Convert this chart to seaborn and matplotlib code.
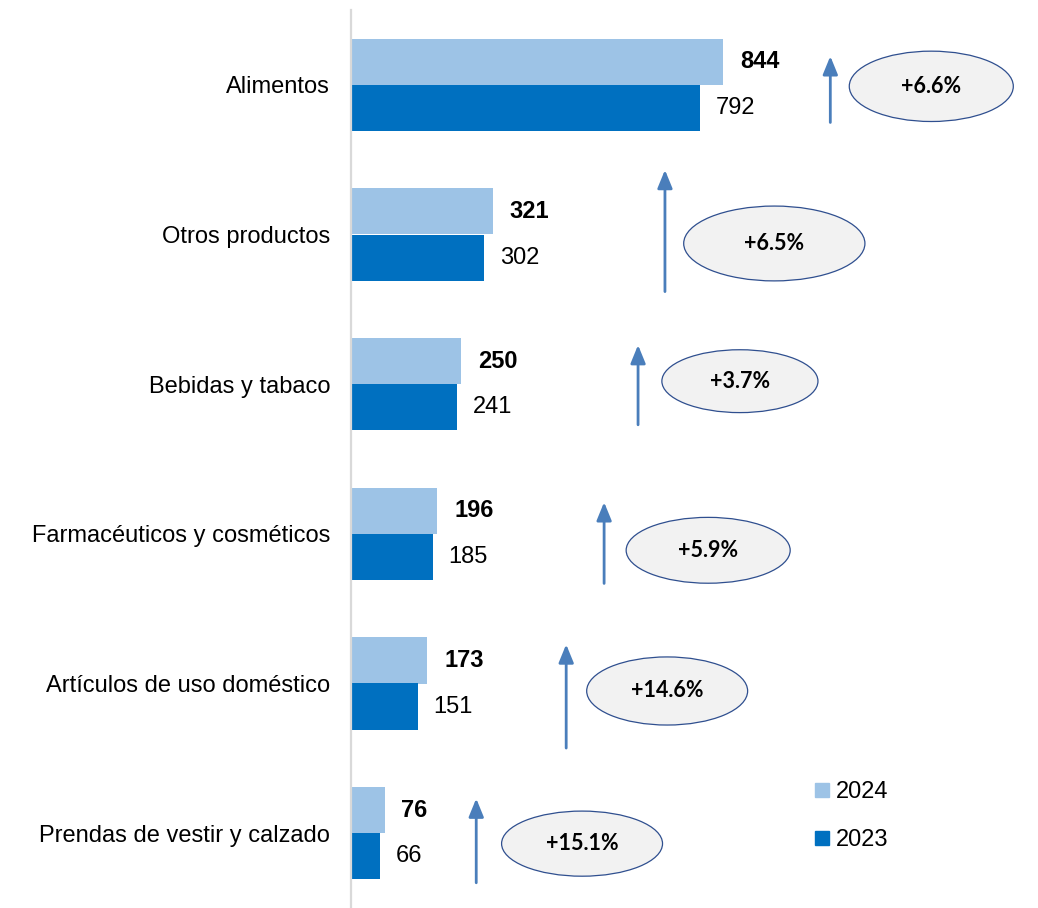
import matplotlib
matplotlib.use("Agg")
import matplotlib.pyplot as plt
from matplotlib.patches import Ellipse
from matplotlib.lines import Line2D
import seaborn as sns
import pandas as pd

categories = [
    "Alimentos",
    "Otros productos",
    "Bebidas y tabaco",
    "Farmacéuticos y cosméticos",
    "Artículos de uso doméstico",
    "Prendas de vestir y calzado",
]
values_2024 = [844, 321, 250, 196, 173, 76]
values_2023 = [792, 302, 241, 185, 151, 66]
growth_labels = ["+6.6%", "+6.5%", "+3.7%", "+5.9%", "+14.6%", "+15.1%"]

# annotation layout (data coords): arrows and ellipses placed by hand
arrow_x = [1087, 712, 651, 574, 488, 284]
arrow_top = [-0.21, 0.55, 1.72, 2.77, 3.72, 4.75]
arrow_bottom = [0.27, 1.40, 2.29, 3.35, 4.45, 5.35]
ell_x = [1316, 960, 882, 810, 717, 524]
ell_y = [0.01, 1.06, 1.98, 3.11, 4.05, 5.07]
ell_w = [372, 411, 354, 372, 365, 365]
ell_h = [0.47, 0.50, 0.42, 0.44, 0.455, 0.435]

df = pd.DataFrame({
    "categoria": categories * 2,
    "valor": values_2024 + values_2023,
    "anio": ["2024"] * len(categories) + ["2023"] * len(categories),
})

sns.set_style("white")
plt.rcParams["font.family"] = ["Liberation Sans", "DejaVu Sans"]
plt.rcParams["text.color"] = "black"

fig = plt.figure(figsize=(10.38, 9.08), dpi=100)
ax = fig.add_axes([351 / 1038, 0, 1 - 351 / 1038, 1 - 10 / 908])

palette = {"2024": "#9DC3E6", "2023": "#0070C0"}
sns.barplot(
    data=df, y="categoria", x="valor", hue="anio", hue_order=["2024", "2023"],
    order=categories, orient="h", palette=palette, width=0.615, gap=0,
    saturation=1, legend=False, linewidth=0, ax=ax,
)

ax.set_xlim(0, 1558)
ax.set_ylim(5.5, -0.5)
ax.set(xlabel="", ylabel="", xticks=[])
ax.tick_params(axis="y", length=0, pad=15, labelsize=17, labelcolor="black")
for s in ["top", "right", "bottom"]:
    ax.spines[s].set_visible(False)
ax.spines["left"].set_color("#D9D9D9")
ax.spines["left"].set_linewidth(1.6)

off = 0.615 / 4
for i in range(len(categories)):
    ax.text(values_2024[i] + 38, i - off, f"{values_2024[i]}", va="center",
            ha="left", fontsize=17, fontweight="bold", color="black")
    ax.text(values_2023[i] + 36, i + off, f"{values_2023[i]}", va="center",
            ha="left", fontsize=17, color="black")
    ax.annotate("", xy=(arrow_x[i], arrow_top[i]), xytext=(arrow_x[i], arrow_bottom[i]),
                arrowprops=dict(arrowstyle="-|>,head_length=1.1,head_width=0.45",
                                color="#4A7EBB", lw=2))
    ax.add_patch(Ellipse((ell_x[i], ell_y[i]), ell_w[i], ell_h[i],
                         facecolor="#F2F2F2", edgecolor="#2F4F8F", lw=0.9))
    ax.text(ell_x[i], ell_y[i], growth_labels[i], ha="center", va="center",
            fontsize=15.5, fontweight="bold", family=["Lato", "DejaVu Sans"])

handles = [
    Line2D([], [], marker="s", linestyle="", color=palette["2024"], markersize=9.5),
    Line2D([], [], marker="s", linestyle="", color=palette["2023"], markersize=9.5),
]
fig.legend(handles, ["2024", "2023"], loc="upper left", bbox_to_anchor=(791 / 1038, 1 - 760 / 908),
           frameon=False, fontsize=17, labelspacing=1.1, handletextpad=0.2, handlelength=0.8,
           labelcolor="black")

fig.savefig("out.png", dpi=100)
